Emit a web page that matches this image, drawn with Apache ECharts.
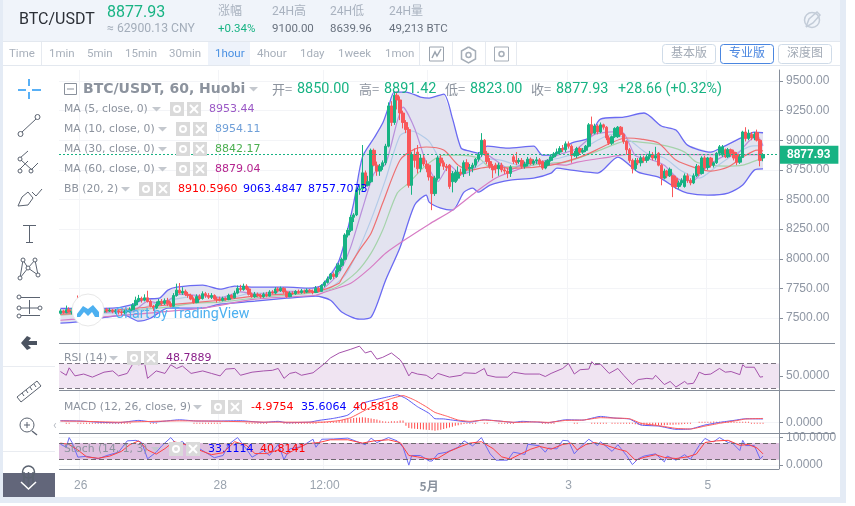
<!DOCTYPE html>
<html>
<head>
<meta charset="utf-8">
<title>BTC/USDT</title>
<style>
html,body{margin:0;padding:0;background:#fff;}
#myChart{width:855px;height:506px;}
</style>
<script src="https://cdn.jsdelivr.net/npm/echarts@6/dist/echarts.min.js"></script>
</head>
<body>
<div id="myChart"></div>
<script>
// hourly candles, rows are [open, close, low, high], index 0 = 25th 17:00
const candlesApr25 = [[7540,7560,7530,7575],[7560,7545,7535,7570],[7545,7570,7540,7605],[7570,7550,7545,7590],[7550,7555,7530,7585],[7555,7565,7540,7590],[7565,7550,7540,7690]];
const candlesApr26 = [[7550,7560,7540,7590],[7560,7570,7545,7600],[7570,7555,7540,7585],[7555,7565,7545,7580],[7565,7560,7550,7590],[7560,7575,7550,7595],[7575,7560,7545,7590],[7560,7550,7535,7580],
	[7550,7570,7540,7590],[7570,7560,7545,7585],[7560,7565,7550,7585],[7565,7555,7540,7575],[7555,7560,7535,7575],[7560,7550,7530,7570],[7550,7545,7525,7565],[7545,7555,7530,7570],
	[7555,7560,7540,7575],[7560,7570,7545,7590],[7570,7610,7565,7625],[7610,7650,7600,7680],[7650,7665,7635,7695],[7665,7650,7630,7680],[7650,7670,7640,7700],[7670,7640,7630,7730]];
const candlesApr27 = [[7640,7600,7590,7655],[7600,7585,7560,7610],[7585,7615,7575,7640],[7615,7640,7600,7660],[7640,7625,7605,7660],[7625,7645,7610,7665],[7645,7620,7600,7670],[7620,7600,7590,7640],
	[7600,7690,7595,7710],[7690,7735,7680,7790],[7735,7710,7700,7795],[7710,7725,7695,7760],[7725,7700,7685,7740],[7700,7690,7670,7720],[7690,7660,7650,7705],[7660,7630,7620,7675],
	[7630,7680,7625,7700],[7680,7665,7650,7700],[7665,7705,7655,7725],[7705,7690,7670,7720],[7690,7675,7660,7710],[7675,7690,7660,7710],[7690,7660,7650,7700],[7660,7655,7630,7680]];
const candlesApr28 = [[7660,7650,7640,7680],[7650,7665,7640,7680],[7665,7655,7645,7675],[7655,7690,7650,7705],[7690,7670,7660,7700],[7670,7710,7665,7730],[7710,7750,7700,7775],[7750,7740,7725,7780],
	[7740,7770,7730,7790],[7770,7745,7735,7785],[7745,7700,7690,7760],[7700,7680,7670,7715],[7680,7700,7670,7720],[7700,7690,7675,7715],[7690,7680,7665,7705],[7680,7700,7670,7715],
	[7700,7685,7675,7720],[7685,7720,7680,7735],[7720,7710,7700,7735],[7710,7745,7700,7760],[7745,7730,7715,7760],[7730,7750,7720,7765],[7750,7720,7705,7760],[7720,7680,7670,7730]];
const candlesApr29 = [[7680,7710,7675,7725],[7710,7705,7695,7725],[7705,7725,7695,7735],[7725,7715,7705,7740],[7715,7730,7705,7745],[7730,7720,7705,7740],[7720,7735,7710,7750],[7735,7725,7715,7745],
	[7725,7715,7700,7740],[7715,7750,7710,7770],[7750,7725,7715,7765],[7725,7775,7720,7785],[7775,7800,7760,7815],[7800,7830,7790,7850],[7830,7870,7820,7880],[7870,7850,7830,7885],
	[7850,7900,7840,7960],[7900,7945,7885,7965],[7945,7995,7930,8010],[7995,8200,7985,8215],[8200,8240,8180,8260],[8240,8350,8225,8370],[8350,8370,8310,8385],[8370,8580,8360,8600]];
const candlesApr30 = [[8580,8590,8540,8620],[8590,8725,8570,8960],[8725,8620,8600,8745],[8620,8650,8610,8700],[8650,8915,8640,8930],[8915,8790,8780,8930],[8790,8740,8700,8820],[8740,8780,8700,8800],
	[8780,8810,8750,8830],[8810,8950,8790,8970],[8950,9290,8940,9320],[9290,9150,9120,9330],[9150,9380,9130,9410],[9380,9340,9260,9410],[9340,9230,9170,9370],[9230,9150,9100,9250],
	[9150,9090,9060,9170],[9090,8620,8600,9110],[8620,8880,8540,8900],[8880,8830,8770,8930],[8900,8760,8720,8960],[8760,8850,8730,8880],[8850,8800,8780,8880],[8800,8760,8730,8830]];
const candlesMay1 = [[8790,8690,8660,8800],[8690,8550,8410,8700],[8550,8680,8530,8700],[8680,8850,8660,8870],[8850,8810,8780,8880],[8810,8780,8750,8830],[8780,8770,8740,8800],[8790,8610,8590,8800],
	[8650,8720,8560,8740],[8650,8730,8640,8750],[8680,8730,8660,8780],[8730,8720,8700,8760],[8720,8810,8690,8830],[8810,8760,8740,8840],[8760,8770,8700,8800],[8770,8790,8730,8810],
	[8790,8840,8770,8850],[8840,8880,8820,8900],[8880,9000,8860,9060],[9000,8890,8870,9010],[8890,8820,8800,8910],[8820,8780,8760,8850],[8780,8750,8680,8800],[8790,8760,8720,8810]];
const candlesMay2 = [[8760,8790,8700,8810],[8790,8750,8730,8810],[8750,8740,8715,8770],[8740,8720,8680,8765],[8720,8775,8690,8790],[8860,8820,8800,8880],[8830,8810,8790,8900],[8820,8830,8800,8850],
	[8830,8780,8760,8850],[8780,8800,8760,8820],[8800,8840,8780,8860],[8840,8805,8790,8855],[8805,8825,8790,8840],[8825,8835,8800,8860],[8835,8800,8785,8850],[8820,8765,8750,8830],
	[8765,8815,8755,8830],[8790,8830,8780,8840],[8830,8860,8820,8880],[8860,8885,8850,8900],[8885,8900,8870,8930],[8900,8930,8880,8950],[8930,8920,8900,8960],[8920,8970,8900,8990]];
const candlesMay3 = [[8970,8950,8930,8990],[8950,8870,8810,8965],[8870,8890,8860,8910],[8870,8930,8850,8945],[8930,8900,8880,8945],[8900,8915,8885,8935],[8915,8950,8900,8960],[8950,9130,8940,9145],
	[9130,9060,9040,9200],[9060,9120,9050,9140],[9120,9070,9050,9135],[9070,9130,9060,9150],[9130,9110,9090,9140],[9110,9020,9000,9120],[9020,8975,8960,9040],[8975,9030,8960,9040],
	[9030,9100,9020,9110],[9030,9110,9020,9120],[9110,9050,9040,9120],[9050,8990,8970,9060],[8990,8920,8880,9000],[8920,8830,8810,8935],[8830,8760,8720,8845],[8760,8830,8740,8850]];
const candlesMay4 = [[8830,8810,8790,8850],[8810,8850,8780,8870],[8850,8830,8810,8870],[8830,8860,8810,8880],[8860,8880,8840,8910],[8880,8850,8830,8900],[8850,8870,8830,8945],[8890,8790,8780,8900],
	[8790,8680,8620,8800],[8680,8740,8670,8760],[8740,8700,8680,8750],[8700,8755,8690,8770],[8700,8610,8520,8710],[8680,8610,8590,8700],[8610,8640,8590,8660],[8640,8660,8620,8680],
	[8610,8700,8600,8720],[8700,8660,8640,8720],[8660,8640,8620,8680],[8640,8700,8630,8720],[8700,8780,8690,8800],[8780,8720,8700,8790],[8720,8850,8710,8865],[8850,8770,8750,8870]];
const candlesMay5 = [[8770,8850,8750,8860],[8850,8790,8770,8860],[8790,8810,8770,8820],[8810,8890,8800,8900],[8890,8945,8870,8960],[8875,8945,8860,8960],[8920,8860,8850,8930],[8860,8920,8850,8935],
	[8920,8890,8860,8930],[8900,8850,8830,8920],[8880,8815,8790,8900],[8815,8860,8800,8880],[8855,9070,8850,9080],[9070,9015,8990,9110],[9015,9060,9000,9090],[9050,9020,9000,9070],
	[9020,9050,9000,9070],[9065,9000,8990,9090],[9000,8830,8780,9010],[8850,8877.93,8823,8891.42]];

// indicator lines, read as [hour index, value] at the turning points
const bbUpper = [[0,7580],[18,7583],[24,7608],[29,7659],[34,7667],[37,7735],[40,7760],[49,7777],[55,7743],[60,7769],[67,7760],[78,7760],[85,7752],[90,7777],[96,7988],[101,8470],[104,8858],[108,9019],[111,9145],[113,9280],[115,9407],[119,9407],[124,9365],[127,9356],[132,9390],[135,9187],[138,8934],[141,8909],[144,8892],[147,8950],[154,8934],[163,8950],[166,8875],[169,8875],[176,8976],[182,9019],[186,9179],[194,9196],[201,9230],[207,9120],[212,9086],[216,8959],[224,8900],[228,8942],[235,9027],[239,9069],[242,9063.48]];
const bbLower = [[0,7456],[5,7465],[16,7507],[22,7524],[27,7473],[31,7498],[37,7583],[49,7583],[55,7617],[67,7642],[78,7667],[88,7684],[93,7650],[97,7549],[103,7490],[107,7507],[112,7819],[117,8098],[122,8453],[126,8537],[127,8478],[131,8427],[135,8410],[139,8562],[142,8596],[144,8562],[148,8622],[155,8664],[163,8681],[169,8723],[171,8765],[176,8748],[185,8723],[192,8858],[199,8731],[206,8689],[212,8596],[216,8554],[223,8537],[230,8554],[235,8622],[239,8748],[242,8757.71]];
const bbBasis = [[0,7530],[25,7580],[37,7610],[55,7650],[67,7685],[85,7715],[90,7735],[96,7794],[97,7836],[103,8073],[107,8216],[111,8470],[117,8833],[122,8925],[126,8943],[132,8917],[137,8790],[141,8748],[147,8774],[157,8765],[169,8790],[179,8858],[183,8900],[195,9019],[200,9010],[206,8976],[212,8833],[219,8765],[224,8740],[230,8774],[235,8858],[240,8917],[242,8910.6]];
const ma5 = [[0,7545],[25,7560],[30,7640],[35,7625],[41,7700],[48,7690],[55,7670],[62,7720],[68,7700],[76,7730],[84,7718],[90,7740],[96,7880],[100,8100],[104,8420],[108,8720],[112,8800],[116,9160],[118,9280],[122,9100],[126,8810],[130,8650],[134,8790],[138,8710],[142,8750],[146,8890],[150,8830],[155,8750],[160,8810],[166,8820],[172,8880],[178,8930],[184,9050],[190,9070],[194,9060],[198,8870],[203,8840],[208,8790],[213,8670],[218,8660],[222,8760],[228,8860],[233,8880],[237,8990],[240,9040],[242,8953.44]];
const ma10 = [[0,7540],[25,7550],[32,7620],[42,7670],[50,7690],[58,7670],[66,7710],[76,7710],[86,7722],[92,7740],[98,7860],[102,8040],[107,8330],[112,8670],[117,9040],[121,9078],[123,9060],[127,8990],[132,8790],[137,8720],[143,8770],[148,8840],[152,8830],[158,8790],[165,8820],[172,8850],[178,8900],[185,9000],[190,9050],[196,9000],[202,8890],[208,8850],[214,8740],[220,8680],[226,8780],[232,8880],[238,8950],[242,8954.11]];
const ma30 = [[0,7525],[37,7591],[46,7625],[55,7634],[69,7675],[86,7710],[95,7760],[102,7887],[107,8047],[111,8242],[116,8554],[120,8639],[126,8790],[132,8875],[137,8875],[144,8850],[148,8774],[158,8780],[170,8810],[174,8816],[184,8900],[192,8976],[195,8993],[203,8976],[209,8950],[215,8900],[219,8816],[224,8790],[229,8782],[235,8790],[240,8833],[242,8842.17]];
const ma60 = [[0,7481],[5,7490],[49,7583],[67,7659],[88,7692],[91,7718],[100,7794],[107,7929],[112,8047],[120,8182],[127,8292],[135,8410],[143,8562],[150,8681],[157,8748],[166,8807],[174,8790],[178,8816],[189,8858],[195,8880],[200,8880],[215,8880],[225,8878],[242,8879.04]];

const rsi = [[0,57],[2,51],[3,63],[5,50],[8,53],[11,48],[15,56],[18,58],[20,50],[23,54],[25,70],[27,68],[29,70],[30,46],[33,58],[36,54],[38,68],[40,62],[42,66],[45,54],[49,58],[52,54],[55,50],[57,61],[60,62],[62,51],[66,56],[70,58],[73,59],[75,62],[77,46],[79,54],[81,56],[83,51],[87,55],[91,70],[93,79],[96,87],[100,93],[103,98],[105,87],[107,90],[109,77],[111,80],[114,87],[117,76],[118,69],[120,50],[121,56],[123,53],[126,51],[128,45],[130,54],[134,48],[138,51],[139,55],[143,54],[146,62],[147,51],[150,48],[154,48],[156,56],[160,53],[165,53],[167,49],[169,54],[173,62],[175,70],[177,53],[179,60],[182,61],[183,73],[184,68],[186,69],[189,54],[192,62],[194,51],[197,36],[199,44],[202,46],[204,45],[205,51],[208,36],[210,41],[212,32],[215,41],[216,37],[218,38],[219,46],[220,56],[222,52],[224,53],[227,62],[229,56],[231,57],[234,52],[235,68],[236,64],[239,64],[241,48],[242,48.79]];
const macdLine = [[0,19],[7,16],[14,3],[20,0],[27,22],[32,6],[41,28],[47,16],[55,16],[62,19],[70,3],[75,13],[78,0],[86,6],[89,22],[94,41],[99,73],[104,184],[109,222],[114,254],[116,266],[119,231],[123,152],[127,89],[129,38],[132,36],[135,25],[141,6],[146,28],[151,16],[156,3],[159,13],[164,6],[168,0],[174,28],[180,25],[186,60],[191,44],[196,35],[200,-22],[206,-32],[212,-63],[217,-60],[222,-22],[227,3],[232,22],[236,38],[242,35.61]];
const macdSignal = [[0,16],[7,14],[20,5],[28,10],[41,18],[55,14],[70,6],[90,5],[96,20],[100,48],[105,120],[110,190],[114,230],[118,258],[122,215],[126,152],[129,98],[133,63],[137,25],[141,13],[146,25],[151,16],[157,3],[164,8],[168,3],[174,22],[180,25],[186,48],[191,44],[196,38],[200,-6],[206,-28],[212,-54],[217,-60],[222,-32],[227,-6],[232,16],[236,35],[242,40.58]];
const _ = null;
const macdHist = [_,_,-6,-6,_,_,-6,-6,-6,-6,-6,-6,-6,-6,-6,-6,-6,-6,-6,-6,-6,-6,-6,-6,
	-6,_,_,_,_,_,_,-6,-6,-6,_,_,_,_,_,_,_,_,_,_,_,_,-6,-6,
	-6,-6,-6,-6,-6,-6,-6,-6,_,_,_,_,_,_,_,_,-6,-6,-6,-6,-6,-6,-6,-6,
	_,_,_,_,_,-6,-6,-6,-6,-6,-6,-6,-6,-6,-6,-6,-6,6,6,8,8,10,12,14,
	20,25,30,35,40,45,48,50,52,50,45,40,35,30,20,15,12,10,15,15,15,20,20,-30,
	-50,-55,-58,-60,-62,-65,-68,-70,-72,-76,-72,-66,-60,-52,-45,-38,-30,-24,-18,-12,-10,-8,-6,-6,
	_,_,-6,-6,_,_,_,-6,-6,-6,-6,-6,-6,_,_,_,_,_,_,_,_,_,-6,-6,
	-6,-6,-6,_,_,_,_,_,_,-6,-6,_,_,_,_,-6,-6,-6,-6,-6,-6,_,-6,-6,
	-6,-6,-6,-6,-6,-8,-15,-20,-25,-28,-30,-28,-30,-26,-25,-25,-24,-22,-20,-20,-18,-16,-15,-12,
	-10,-8,_,_,8,8,10,10,10,12,10,10,10,8,6,6,6,6,6,6,6,6,-6,-6,-6,-6,-5];
const stochK = [[0,76],[2,65],[3,100],[4,82],[6,29],[9,32],[13,23],[16,35],[20,47],[23,88],[26,90],[28,82],[30,23],[33,47],[35,71],[38,100],[40,76],[42,86],[45,53],[48,59],[53,27],[56,35],[58,76],[61,100],[64,59],[66,29],[70,53],[72,35],[75,76],[77,20],[79,59],[83,67],[87,94],[88,65],[90,94],[94,95],[99,98],[105,74],[107,98],[109,82],[113,100],[116,88],[118,65],[120,0],[121,35],[124,35],[127,15],[128,15],[130,41],[133,47],[137,65],[139,88],[142,70],[145,100],[148,41],[150,18],[154,18],[156,47],[160,39],[161,76],[165,70],[167,47],[168,62],[171,59],[173,90],[175,88],[177,41],[179,65],[182,94],[185,71],[186,85],[190,50],[192,74],[195,35],[197,2],[199,23],[201,33],[205,41],[208,12],[209,33],[212,18],[215,38],[217,21],[220,71],[222,97],[224,86],[225,85],[227,100],[230,82],[231,85],[234,53],[235,90],[236,71],[239,71],[241,23],[242,33.11]];
const stochD = [[0,80],[3,75],[6,55],[9,30],[13,25],[17,33],[21,50],[24,75],[27,88],[30,55],[33,40],[36,60],[39,85],[43,75],[47,58],[52,38],[56,45],[60,85],[64,72],[67,42],[71,42],[75,55],[78,40],[81,58],[85,78],[89,82],[93,92],[99,92],[104,80],[108,88],[113,92],[117,82],[120,35],[123,30],[127,22],[130,25],[134,50],[138,68],[141,80],[145,85],[149,60],[152,30],[155,22],[158,38],[162,58],[165,68],[169,58],[173,75],[176,80],[178,55],[181,75],[184,82],[188,72],[192,58],[195,50],[198,18],[201,28],[205,38],[208,28],[212,24],[216,30],[219,40],[222,82],[226,88],[230,90],[234,72],[237,75],[240,62],[242,40.81]];

// axis ticks
const priceTicks = [7500,7750,8000,8250,8500,8750,9000,9250,9500];
const timeTickHours = [7,55,91,127,175,223];
const timeTickNames = ['26','28','12:00','5月','3','5'];
const hourCount = 248;

const candles = candlesApr25.concat(candlesApr26,candlesApr27,candlesApr28,candlesApr29,candlesApr30,candlesMay1,candlesMay2,candlesMay3,candlesMay4,candlesMay5);
let categories = [];
for(let i=0;i<hourCount;i++){
	let k = timeTickHours.indexOf(i);
	categories.push(k>=0 ? timeTickNames[k] : 'h'+i);
}

const GREEN = '#17b383', RED = '#f9575a';
const UI = 'Roboto,"Noto Sans CJK SC",sans-serif';
const LEG = '"DejaVu Sans","Noto Sans CJK SC",sans-serif';
const AX = '"Liberation Sans",Arial,sans-serif';
let gfx = [];

function tx(s,x,y,color,size,font,weight){
	gfx.push({type:'text',x:x,y:y,z:100,silent:true,style:{text:s,fill:color,font:(weight||'normal')+' '+size+'px '+(font||UI),textVerticalAlign:'middle',textAlign:'left'}});
}
function rc(x,y,w,h,fill,stroke,z){
	gfx.push({type:'rect',z:z||90,silent:true,shape:{x:x,y:y,width:w,height:h},style:{fill:fill||'none',stroke:stroke||'none',lineWidth:1}});
}
function ln(x1,y1,x2,y2,color,w){
	gfx.push({type:'line',z:100,silent:true,shape:{x1:x1,y1:y1,x2:x2,y2:y2},style:{stroke:color,lineWidth:w||1}});
}
function ci(x,y,r,fill,stroke,w){
	gfx.push({type:'circle',z:100,silent:true,shape:{cx:x,cy:y,r:r},style:{fill:fill||'none',stroke:stroke||'none',lineWidth:w||1}});
}
function pl(points,color,w,fill){
	gfx.push({type:fill?'polygon':'polyline',z:100,silent:true,shape:{points:points},style:{stroke:fill?'none':color,fill:fill?color:'none',lineWidth:w||1}});
}
// caret after a legend title
function caret(x,y){ pl([[x,y-2],[x+9,y-2],[x+4.5,y+2.5]],'#c4c8ce',1,true); }
// settings + close boxes next to a legend title
function boxes(x1,x2,y){
	rc(x1,y-7,14,14,'#dadada');
	ci(x1+7,y,3,'none','#fff',2);
	rc(x2,y-7,14,14,'#dadada');
	ln(x2+3,y-4,x2+11,y+4,'#fff',2);
	ln(x2+11,y-4,x2+3,y+4,'#fff',2);
}

// page chrome
rc(0,0,3,497,'#e4ebf5',null,1);
rc(840,0,6,503,'#e4ebf5',null,1);
rc(0,497,846,6,'#e4ebf5',null,1);
rc(3,0,837,41,'#f0f4fa',null,1);
ln(3,41.5,840,41.5,'#e3e8ef');
ln(3,65.5,840,65.5,'#e3e8ef');

// header
tx('BTC/USDT',19,20,'#2b2f36',16);
tx('8877.93',107,13,GREEN,16);
tx('≈ 62900.13 CNY',107,29,'#a3adba',12.2);
tx('涨幅',218,12,'#a9b2bf',12);
tx('+0.34%',218,29,GREEN,11.5);
tx('24H高',272,12,'#a9b2bf',12);
tx('9100.00',272,29,'#68717e',11.5);
tx('24H低',330,12,'#a9b2bf',12);
tx('8639.96',330,29,'#68717e',11.5);
tx('24H量',389,12,'#a9b2bf',12);
tx('49,213 BTC',389,29,'#68717e',11.5);
ci(812,20,7.5,'none','#c3ccd8',1.5);
pl([[806,27],[809,19],[817,12],[820,15],[813,23],[806,27]],'#c3ccd8',1.5);

// interval toolbar
const intervalNames = ['Time','1min','5min','15min','30min','1hour','4hour','1day','1week','1mon'];
const intervalLeft = [9,49,87,125,169,215,257,300,338,385];
rc(208,42,42,23,'#eef3fb');
intervalNames.forEach(function(n,i){
	tx(n,intervalLeft[i],54,i==5?'#4a90e2':'#a8b0bb',11.5);
});
[41,419,452,485,516].forEach(function(x){ ln(x+.5,42,x+.5,65,'#e6eaf0'); });
rc(429.5,47,14,14,null,'#9aa3ae');
pl([[432,58],[435,52],[437,56],[441,49]],'#9aa3ae',1.5);
pl([[468.5,47],[475.5,51],[475.5,59],[468.5,63],[461.5,59],[461.5,51],[468.5,47]],'#a6aeb8',1.5);
ci(468.5,55,2.5,'none','#a6aeb8',1.5);
rc(494.5,47,14,14,null,'#a6aeb8');
ci(501.5,54,2.5,'none','#a6aeb8',1.5);
function btn(x,s,active){
	gfx.push({type:'rect',z:90,silent:true,shape:{x:x+.5,y:44.5,width:53,height:19,r:3},style:{fill:'#fff',stroke:active?'#4a86e0':'#cfdbe8',lineWidth:1}});
	tx(s,x+9,54,active?'#4a86e0':'#a3abb6',12);
}
btn(662,'基本版',false);
btn(720,'专业版',true);
btn(778,'深度图',false);

// drawing tools on the left
const ic = '#5b6370';
ln(29,79,29,86,'#2196f3',1.5); ln(29,92,29,99,'#2196f3',1.5); ln(18,90,26,90,'#2196f3',1.5); ln(32,90,41,90,'#2196f3',1.5);
ln(22,132,36,119,ic); ci(20.5,134,2.5,'#fff',ic); ci(37.5,117,2.5,'#fff',ic);
ln(20,158,28,151,ic); ln(20,169,28,161,ic); ln(31,170,38,163,ic); ci(20,159,2,'#fff',ic); ci(20,171,2,'#fff',ic); ci(31,171,2,'#fff',ic); ln(21,160,32,170,ic);
pl([[18,206],[28,205],[33,198],[28,192],[22,197],[18,206]],ic,1); pl([[32,192],[36,196],[42,189]],ic,1);
ln(23,225.5,36,225.5,ic); ln(29.5,226,29.5,242,ic); ln(26,242.5,33,242.5,ic);
pl([[20,278],[23,260],[28,268],[35,260],[38,275],[28,268],[20,278]],ic,1); ci(20,278,2,'#fff',ic); ci(23,260,2,'#fff',ic); ci(28,268,2,'#fff',ic); ci(35,260,2,'#fff',ic); ci(38,275,2,'#fff',ic);
ln(21,297.5,40,297.5,ic); ln(21,315.5,40,315.5,ic); ln(19,308,38,308,ic); ln(29.5,300,29.5,314,ic); ci(19,297,2,'#fff',ic); ci(19,308,2,'#fff',ic); ci(40,308,2,'#fff',ic); ci(19,316,2,'#fff',ic);
pl([[36,343],[27,343],[31,338],[27,336],[21,343],[27,350],[31,348],[27,344]],'#4b5360',1,true); rc(26,341,11,4,'#4b5360',null,100);
ln(3,366.5,55,366.5,'#e9ecf1');
pl([[17,397],[37,381],[41,386],[21,402],[17,397]],ic,1);
[[22,393],[26,390],[30,387],[34,384]].forEach(function(p){ ln(p[0],p[1],p[0]+2,p[1]+3,ic); });
ci(27,425,7,'none',ic); ln(32,431,37,435,ic,1.5); ln(24,425,30,425,ic); ln(27,422,27,428,ic);
ln(3,451.5,55,451.5,'#e9ecf1');
rc(3,473,52,24,'#62667a',null,95);
ci(28.5,472,6,'none',ic,1.5); ln(24,472,24,488,ic,1.5); ln(33,472,33,488,ic,1.5); ln(28.5,472,28.5,488,ic,1.5);
pl([[21,482],[28.5,489],[36,482]],'#fff',1.5);
tx('‹',53,426,'#b7bcc4',12);

// chart legends
rc(64.5,83.5,12,11,null,'#8a919c',95); ln(67,89,74,89,'#8a919c');
tx('BTC/USDT, 60, Huobi',83,89,'#8c939e',14,LEG,'bold'); caret(249,89);
const ohlcLabels = ['开=','高=','低=','收='];
const ohlcValues = ['8850.00','8891.42','8823.00','8877.93'];
const ohlcLeft = [272,359,445,531];
ohlcLabels.forEach(function(s,i){
	tx(s,ohlcLeft[i],89,'#8c939e',13,'"Noto Sans CJK SC"');
	tx(ohlcValues[i],ohlcLeft[i]+25,89,GREEN,14.4,UI);
});
tx('+28.66 (+0.32%)',618,89,GREEN,14.3,UI);
tx('MA (5, close, 0)',64,109,'#8c939e',10.8,LEG); caret(152,109); boxes(170,187,109); tx('8953.44',209,109,'#9b59c6',11,LEG);
tx('MA (10, close, 0)',64,129,'#8c939e',10.8,LEG); caret(158,129); boxes(176,193,129); tx('8954.11',215,129,'#6f9fd8',11,LEG);
tx('MA (30, close, 0)',64,149,'#8c939e',10.8,LEG); caret(158,149); boxes(176,193,149); tx('8842.17',215,149,'#4caf50',11,LEG);
tx('MA (60, close, 0)',64,169,'#8c939e',10.8,LEG); caret(158,169); boxes(176,193,169); tx('8879.04',215,169,'#b5258f',11,LEG);
tx('BB (20, 2)',64,189,'#8c939e',10.8,LEG); caret(121,189); boxes(139,156,189);
tx('8910.5960',178,189,'#ff0000',11,LEG); tx('9063.4847',243,189,'#0000ff',11,LEG); tx('8757.7073',308,189,'#0000ff',11,LEG);
tx('RSI (14)',64,358,'#8c939e',10.8,LEG); caret(109,358); boxes(127,144,358); tx('48.7889',166,358,'#8a1f8a',11,LEG);
tx('MACD (12, 26, close, 9)',64,407,'#8c939e',10.8,LEG); caret(193,407); boxes(211,228,407);
tx('-4.9754',251,407,'#ff0000',11,LEG); tx('35.6064',301,407,'#0000ff',11,LEG); tx('40.5818',353,407,'#ff0000',11,LEG);
tx('Stoch (14, 1, 3)',64,449,'#8c939e',10.8,LEG); caret(151,449); boxes(169,186,449);
tx('33.1114',208,449,'#0000ff',11,LEG); tx('40.8141',260,449,'#ff0000',11,LEG);

// watermark
ci(88,310,16,'#fff','#e8e8e8',1);
pl([[77,314],[83,306],[88,309],[93,305],[99,312],[99,317],[95,317],[92,312],[88,316],[84,312],[80,317],[77,317]],'#4db0f0',1,true);
tx('Chart by TradingView',115,314,'#4db0f0',14.2,UI);

// pane borders
ln(59,343.5,835,343.5,'#868e9a');
ln(59,390.5,835,390.5,'#868e9a');
ln(59,433.5,835,433.5,'#868e9a');
ln(59,469.5,779,469.5,'#868e9a');

function lineSeries(name,data,color,xi,width,smooth){
	return {name:name,type:'line',xAxisIndex:xi,yAxisIndex:xi,data:data,symbol:'none',smooth:smooth||0,
		lineStyle:{color:color,width:width||1},silent:true,z:3};
}
function xAxisFor(idx,showLabel){
	return {type:'category',gridIndex:idx,data:categories,boundaryGap:true,
		axisLine:{show:false},
		axisTick:{show:false},
		axisLabel:{show:showLabel,interval:function(i){return timeTickHours.indexOf(i)>=0;},
			margin:11,color:'#9aa3ae',fontSize:12,fontFamily:AX,
			formatter:function(v){return v=='5月'?'{b|5月}':v;},
			rich:{b:{fontWeight:'bold',color:'#8a929e',fontSize:12,fontFamily:'"Noto Sans CJK SC"'}}},
		splitLine:{show:true,interval:function(i){return timeTickHours.indexOf(i)>=0;},lineStyle:{color:'#f3f4f7'}}};
}
function yAxisFor(idx,min,max,ticks,digits){
	return {type:'value',gridIndex:idx,position:'right',min:min,max:max,scale:true,
		axisLine:{show:true,lineStyle:{color:'#868e9a'}},
		axisTick:{show:true,length:4,lineStyle:{color:'#868e9a'},customValues:ticks},
		axisLabel:{color:'#8e96a3',fontSize:12,fontFamily:AX,margin:7,padding:[2,0,0,0],customValues:ticks,
			formatter:function(v){return v.toFixed(digits);}},
		splitLine:{show:true,lineStyle:{color:'#f3f4f7'}}};
}

let myChart = echarts.init(document.getElementById('myChart'),null,{width:855,height:506});
let option = {
	animation:false,
	backgroundColor:'#fff',
	graphic:{elements:gfx},
	grid:[
		{left:59,width:720,top:70,height:273},
		{left:59,width:720,top:344,height:47},
		{left:59,width:720,top:391,height:42},
		{left:59,width:720,top:434,height:35}
	],
	xAxis:[xAxisFor(0,false),xAxisFor(1,false),xAxisFor(2,false),xAxisFor(3,true)],
	yAxis:[
		yAxisFor(0,7289,9593,priceTicks,2),
		yAxisFor(1,25.6,101.5,[50],4),
		yAxisFor(2,-98,302,[0],4),
		yAxisFor(3,-14,113,[0,100],4)
	],
	series:[
		{	// band fill between the Bollinger lines
			type:'custom',xAxisIndex:0,yAxisIndex:0,silent:true,z:1,clip:true,
			data:[[0,8000]],
			renderItem:function(params,api){
				let pts = bbUpper.concat(bbLower.slice().reverse()).map(function(p){return api.coord(p);});
				return {type:'polygon',shape:{points:pts},style:{fill:'#e3e3f0'}};
			}
		},
		lineSeries('BB upper',bbUpper,'#6a6af2',0,1.3,0.25),
		lineSeries('BB lower',bbLower,'#6a6af2',0,1.3,0.25),
		lineSeries('MA60',ma60,'#d77cc4',0,1.2,0.25),
		lineSeries('MA30',ma30,'#a5d3ab',0,1.2,0.25),
		lineSeries('MA10',ma10,'#b3cbe8',0,1.2,0.25),
		lineSeries('MA5',ma5,'#b98fdb',0,1.2,0.2),
		lineSeries('BB basis',bbBasis,'#ee7072',0,1.2,0.25),
		{
			name:'BTC/USDT',type:'candlestick',xAxisIndex:0,yAxisIndex:0,data:candles,barWidth:3,z:4,silent:true,
			itemStyle:{color:GREEN,color0:RED,borderColor:GREEN,borderColor0:RED,borderWidth:1},
			markLine:{silent:true,symbol:'none',animation:false,z:6,
				lineStyle:{color:GREEN,type:[2,2],width:1},
				label:{show:true,position:'end',distance:1,formatter:'8877.93',color:'#fff',fontWeight:'bold',fontSize:12,fontFamily:AX,
					backgroundColor:GREEN,padding:[3,8,3,7]},
				data:[{yAxis:8877.93}]}
		},
		{
			name:'RSI',type:'line',xAxisIndex:1,yAxisIndex:1,data:rsi,symbol:'none',silent:true,z:3,
			lineStyle:{color:'#a552ab',width:1},
			markArea:{silent:true,itemStyle:{color:'#f0e4f2'},data:[[{yAxis:30},{yAxis:70}]]},
			markLine:{silent:true,symbol:'none',label:{show:false},lineStyle:{color:'#7a7480',type:[5,3],width:1},data:[{yAxis:30},{yAxis:70}]}
		},
		{
			name:'MACD hist',type:'bar',xAxisIndex:2,yAxisIndex:2,data:macdHist,barWidth:1,barMinHeight:1,silent:true,z:2,
			itemStyle:{color:'#ff4b4b'}
		},
		lineSeries('MACD',macdLine,'#5a5af5',2,1,0.15),
		lineSeries('Signal',macdSignal,'#ff5a5a',2,1,0.15),
		{
			name:'Stoch K',type:'line',xAxisIndex:3,yAxisIndex:3,data:stochK,symbol:'none',silent:true,z:3,
			lineStyle:{color:'#6a6af5',width:1},
			markArea:{silent:true,itemStyle:{color:'#dfbfdf'},data:[[{yAxis:20},{yAxis:80}]]},
			markLine:{silent:true,symbol:'none',label:{show:false},lineStyle:{color:'#6e6870',type:[5,3],width:1},data:[{yAxis:20},{yAxis:80}]}
		},
		lineSeries('Stoch D',stochD,'#ff4040',3,1)
	]
};
myChart.setOption(option);
</script>
</body>
</html>
